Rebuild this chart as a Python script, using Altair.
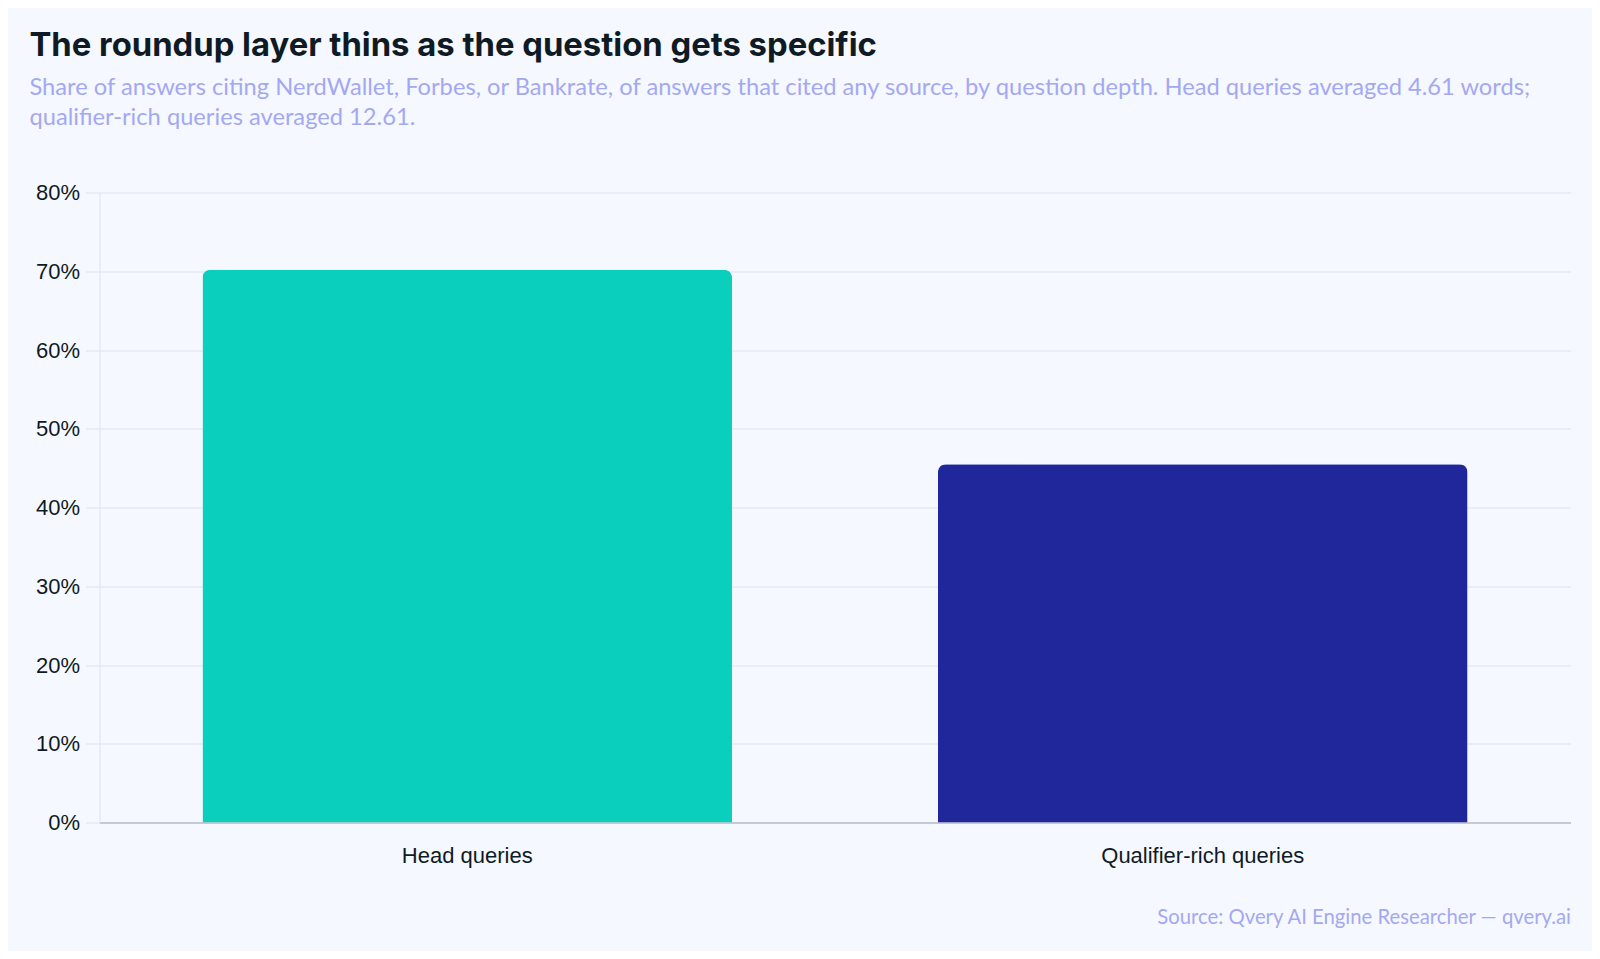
import altair as alt
import pandas as pd

# question depth buckets and the share citing a roundup site
depth = ["Head queries", "Qualifier-rich queries"]
share = [0.702, 0.455]
bar_colors = ["#0bcfbd", "#20279a"]

source = pd.DataFrame({"depth": depth, "share": share})

title_text = "The roundup layer thins as the question gets specific"
subtitle_lines = [
    "Share of answers citing NerdWallet, Forbes, or Bankrate, of answers that cited any source, by question depth. Head queries averaged 4.61 words;",
    "qualifier-rich queries averaged 12.61.",
]
source_note = "Source: Qvery AI Engine Researcher \u2014 qvery.ai"

grid_color = "#dde2ee"
ink = "#0f1b24"
lavender = "#a4a8f2"

bars = alt.Chart(source).mark_bar(
    cornerRadiusTopLeft=8,
    cornerRadiusTopRight=8,
).encode(
    x=alt.X(
        "depth:N",
        sort=depth,
        scale=alt.Scale(paddingInner=0.28, paddingOuter=0.14),
        axis=alt.Axis(
            title=source_note,
            labelAngle=0,
            labelLimit=0,
            labelFont="Liberation Sans",
            labelFontSize=22,
            labelColor=ink,
            labelPadding=23,
            ticks=False,
            domainColor="#b9bdc8",
            domainWidth=1.5,
            titleFont="Lato",
            titleFontSize=20.3,
            titleFontWeight="normal",
            titleColor=lavender,
            titleAlign="right",
            titleBaseline="alphabetic",
            titleX=1471,
            titleY=101,
        ),
    ),
    y=alt.Y(
        "share:Q",
        scale=alt.Scale(domain=[0, 0.8], nice=False),
        axis=alt.Axis(
            title=None,
            format=".0%",
            values=[0, 0.1, 0.2, 0.3, 0.4, 0.5, 0.6, 0.7, 0.8],
            labelFont="Liberation Sans",
            labelFontSize=22,
            labelColor=ink,
            labelPadding=6,
            tickSize=14,
            tickColor=grid_color,
            gridColor=grid_color,
            gridWidth=1.2,
            domainColor=grid_color,
        ),
    ),
    color=alt.Color(
        "depth:N",
        sort=depth,
        scale=alt.Scale(domain=depth, range=bar_colors),
        legend=None,
    ),
)

chart = bars.properties(
    width=1471,
    height=630,
    autosize=alt.AutoSizeParams(type="none"),
    padding={"left": 91.5, "top": 184.5, "right": 21.5, "bottom": 128.5},
    background="#f5f8fe",
    title=alt.TitleParams(
        text=title_text,
        subtitle=subtitle_lines,
        anchor="start",
        dx=-6,
        offset=52,
        font="Inter",
        fontSize=32.8,
        fontWeight=700,
        color=ink,
        subtitleFont="Lato",
        subtitleFontSize=23.7,
        subtitleColor=lavender,
        subtitleLineHeight=30,
        subtitlePadding=13,
    ),
).configure_view(
    strokeWidth=0
)

chart.save("out.html", embed_options={"renderer": "svg", "actions": False})
